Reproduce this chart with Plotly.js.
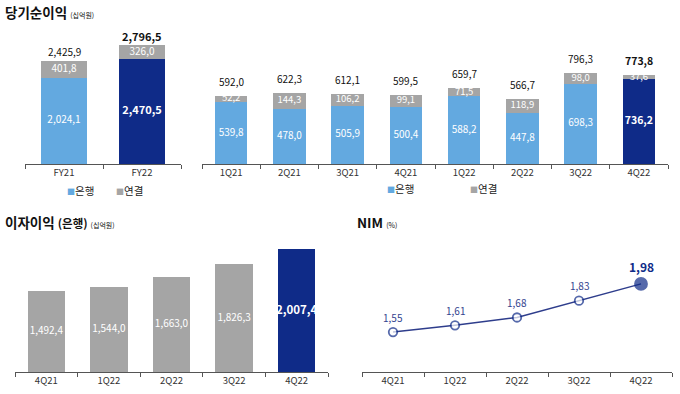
<!DOCTYPE html>
<html><head><meta charset="utf-8">
<script src="https://cdn.plot.ly/plotly-3.0.1.min.js"></script>
<style>html,body{margin:0;padding:0;background:#fff}#chart{width:680px;height:394px}</style>
</head><body><div id="chart"></div>
<script>
// ---- data ----
const yearCats = ['FY21', 'FY22'];
const yearBank = [2024.1, 2470.5];
const yearCons = [401.8, 326.0];
const yearTotal = [2425.9, 2796.5];

const qCats = ['1Q21', '2Q21', '3Q21', '4Q21', '1Q22', '2Q22', '3Q22', '4Q22'];
const qBank = [539.8, 478.0, 505.9, 500.4, 588.2, 447.8, 698.3, 736.2];
const qCons = [52.2, 144.3, 106.2, 99.1, 71.5, 118.9, 98.0, 37.6];
const qTotal = [592.0, 622.3, 612.1, 599.5, 659.7, 566.7, 796.3, 773.8];

const niiCats = ['4Q21', '1Q22', '2Q22', '3Q22', '4Q22'];
const niiVals = [1492.4, 1544.0, 1663.0, 1826.3, 2007.4];

const nimCats = ['4Q21', '1Q22', '2Q22', '3Q22', '4Q22'];
const nimVals = [1.55, 1.61, 1.68, 1.83, 1.98];

const legendBank = '은행';
const legendCons = '연결';

// ---- styles ----
const W = 680, H = 394;
const FONT = '"Noto Sans CJK KR", "Noto Sans", sans-serif';
const BLUE = '#63a9e0', NAVY = '#0f2b88', GRAY = '#a5a5a5', LINE = '#2e3d8c';
const px = x => x / W, py = y => 1 - y / H;

function fmt(v, d) {
  const s = v.toFixed(d).split('.');
  const i = s[0].replace(/\B(?=(\d{3})+(?!\d))/g, ',');
  return d ? i + ',' + s[1] : i;
}
const isLast = (arr, i) => i === arr.length - 1;

const NII_MIN = 497, NII_MAX = 2123;
const traces = [];
const ann = [];

function stackPanel(cats, bank, cons, total, xa, ya, width, sizes) {
  traces.push({type: 'bar', x: cats, y: bank, xaxis: xa, yaxis: ya, width: width,
    marker: {color: cats.map((c, i) => isLast(cats, i) ? NAVY : BLUE), line: {width: 0}}, hoverinfo: 'skip'});
  traces.push({type: 'bar', x: cats, y: cons, xaxis: xa, yaxis: ya, width: width,
    marker: {color: GRAY, line: {width: 0}}, hoverinfo: 'skip'});
  traces.push({type: 'scatter', mode: 'text', x: cats, y: bank.map(v => v / 2), xaxis: xa, yaxis: ya,
    text: bank.map((v, i) => isLast(bank, i) ? '<b>' + fmt(v, 1) + '</b>' : fmt(v, 1)),
    textposition: 'middle center', cliponaxis: false,
    textfont: {family: FONT, color: '#fff', size: bank.map((v, i) => isLast(bank, i) ? sizes[1] : sizes[0])}, hoverinfo: 'skip'});
  traces.push({type: 'scatter', mode: 'text', x: cats, y: bank.map((v, i) => v + cons[i] / 2), xaxis: xa, yaxis: ya,
    text: cons.map(v => fmt(v, 1)), textposition: 'middle center', cliponaxis: false,
    textfont: {family: FONT, color: '#fff', size: sizes[3]}, hoverinfo: 'skip'});
  total.forEach((v, i) => {
    const last = isLast(total, i);
    ann.push({x: cats[i], y: v, xref: xa, yref: ya, yshift: sizes[2], yanchor: 'middle', showarrow: false,
      text: last ? '<b>' + fmt(v, 1) + '</b>' : fmt(v, 1),
      font: {family: FONT, size: last ? sizes[1] : sizes[0], color: '#111'}});
  });
}

stackPanel(yearCats, yearBank, yearCons, yearTotal, 'x', 'y', 0.59, [10, 11, 9, 10]);
stackPanel(qCats, qBank, qCons, qTotal, 'x2', 'y2', 0.56, [10, 10.5, 14.5, 9.5]);

// Net interest income (bank)
traces.push({type: 'bar', x: niiCats, y: niiVals, xaxis: 'x3', yaxis: 'y3', width: 0.6,
  marker: {color: niiCats.map((c, i) => isLast(niiCats, i) ? NAVY : GRAY), line: {width: 0}}, hoverinfo: 'skip'});
traces.push({type: 'scatter', mode: 'text', x: niiCats, y: niiVals.map(v => (NII_MIN + v) / 2), xaxis: 'x3', yaxis: 'y3',
  text: niiVals.map((v, i) => isLast(niiVals, i) ? '<b>' + fmt(v, 1) + '</b>' : fmt(v, 1)),
  textposition: 'middle center', cliponaxis: false,
  textfont: {family: FONT, color: '#fff', size: niiVals.map((v, i) => isLast(niiVals, i) ? 11.5 : 10)}, hoverinfo: 'skip'});

// NIM
traces.push({type: 'scatter', mode: 'lines+markers', x: nimCats, y: nimVals, xaxis: 'x4', yaxis: 'y4',
  line: {color: LINE, width: 1.5}, cliponaxis: false,
  marker: {size: nimVals.map((v, i) => isLast(nimVals, i) ? 12 : 8.5),
    color: nimVals.map((v, i) => isLast(nimVals, i) ? NAVY : '#fff'),
    line: {color: NAVY, width: 1.8}}, hoverinfo: 'skip'});
nimVals.forEach((v, i) => {
  const last = isLast(nimVals, i);
  ann.push({x: nimCats[i], y: v, xref: 'x4', yref: 'y4', yshift: last ? 17 : 15, yanchor: 'middle', showarrow: false,
    text: last ? '<b>' + fmt(v, 2) + '</b>' : fmt(v, 2),
    font: {family: FONT, size: last ? 12 : 10, color: last ? NAVY : '#34448f'}});
});

// titles
function title(x, y, html) {
  ann.push({x: px(x), y: py(y), xref: 'paper', yref: 'paper', xanchor: 'left', yanchor: 'middle', showarrow: false,
    text: html, font: {family: FONT, size: 13.5, color: '#111'}});
}
title(3, 12, '<b>당기순이익</b> <span style="font-size:7px">(십억원)</span>');
title(3, 222, '<b>이자이익</b> <b><span style="font-size:11.5px">(은행)</span></b> <span style="font-size:7px">(십억원)</span>');
title(355, 222, '<b>NIM</b> <span style="font-size:7px">(%)</span>');

// legends
function legendItem(x, y, color, label) {
  ann.push({x: px(x), y: py(y), xref: 'paper', yref: 'paper', xanchor: 'left', yanchor: 'middle', showarrow: false,
    text: '<span style="font-size:8px;color:' + color + '">■</span>' + label,
    font: {family: FONT, size: 10.5, color: '#222'}});
}
legendItem(65, 190, BLUE, legendBank);
legendItem(114, 190, GRAY, legendCons);
legendItem(385, 188, BLUE, legendBank);
legendItem(468, 188, GRAY, legendCons);

const xCommon = {type: 'category', showline: true, linecolor: '#555', linewidth: 1, ticks: 'outside',
  tickson: 'boundaries', ticklen: 4, tickcolor: '#555', tickwidth: 1, showgrid: false, zeroline: false,
  tickfont: {family: FONT, size: 9.5, color: '#333'}, fixedrange: true};
const yCommon = {visible: false, showgrid: false, zeroline: false, fixedrange: true};

const layout = {
  width: W, height: H, margin: {l: 0, r: 0, t: 0, b: 0}, paper_bgcolor: '#fff', plot_bgcolor: 'rgba(0,0,0,0)',
  showlegend: false, barmode: 'stack', font: {family: FONT},
  xaxis: Object.assign({}, xCommon, {domain: [px(25), px(181)], anchor: 'y', range: [-0.5, 1.5]}),
  yaxis: Object.assign({}, yCommon, {domain: [py(164), py(30)], anchor: 'x', range: [0, 3153]}),
  xaxis2: Object.assign({}, xCommon, {domain: [px(202), px(668)], anchor: 'y2', range: [-0.5, 7.5]}),
  yaxis2: Object.assign({}, yCommon, {domain: [py(164), py(30)], anchor: 'x2', range: [0, 1167]}),
  xaxis3: Object.assign({}, xCommon, {domain: [px(15), px(328)], anchor: 'y3', range: [-0.5, 4.5]}),
  yaxis3: Object.assign({}, yCommon, {domain: [py(372), py(240)], anchor: 'x3', range: [NII_MIN, NII_MAX]}),
  xaxis4: Object.assign({}, xCommon, {domain: [px(362), px(672)], anchor: 'y4', range: [-0.5, 4.5]}),
  yaxis4: Object.assign({}, yCommon, {domain: [py(372), py(240)], anchor: 'x4', range: [1.193, 2.372]}),
  annotations: ann
};

Plotly.newPlot('chart', traces, layout, {staticPlot: true, displayModeBar: false});
</script>
</body></html>
